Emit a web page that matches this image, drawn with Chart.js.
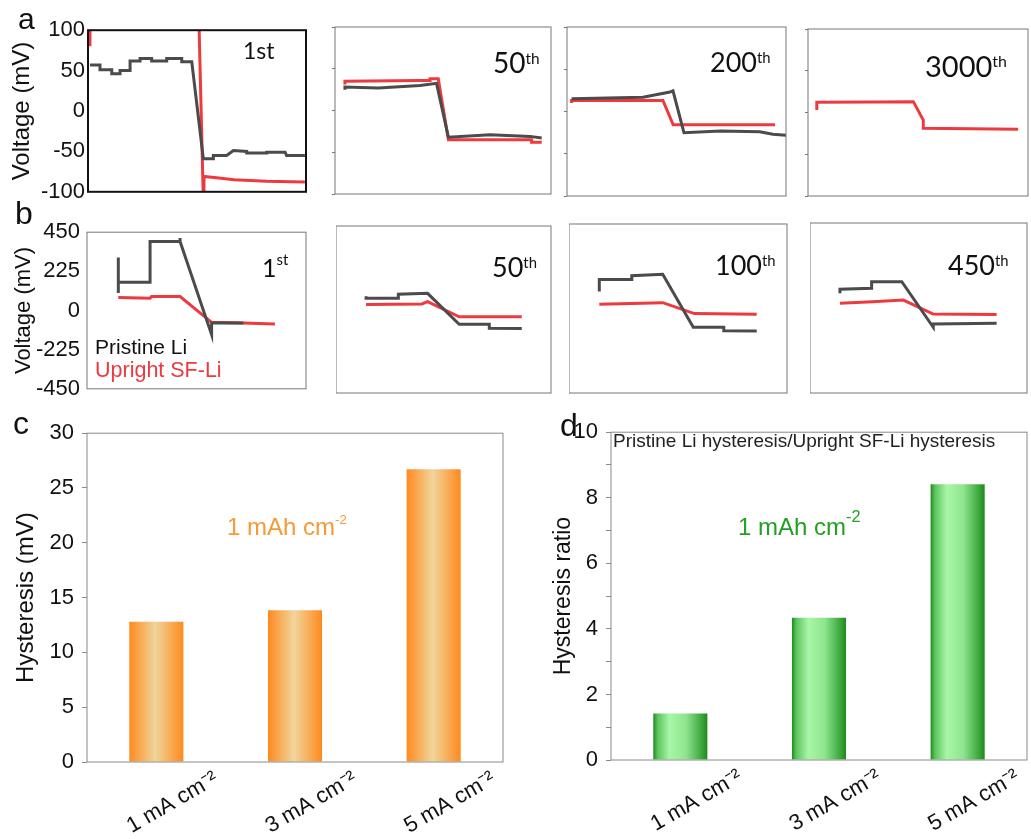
<!DOCTYPE html>
<html>
<head>
<meta charset="utf-8">
<script src="https://cdn.jsdelivr.net/npm/chart.js@4.4.1/dist/chart.umd.min.js"></script>
<style>
  body { margin: 0; width: 1031px; height: 839px; background: #fff; position: relative; overflow: hidden;
         font-family: "Liberation Sans", Arial, sans-serif; }
  canvas { position: absolute; }
  .t { position: absolute; white-space: nowrap; line-height: 1; color: #111; }
  .cyc { font-family: Lato, "Open Sans", sans-serif; }
  .sp { position: relative; font-size: 0.55em; top: -0.6em; }
</style>
</head>
<body>
<script>
// ---- row a: galvanostatic profiles (mV), time normalised to 0..100 ----
const voltageTicksA = [-100, 100, 50];
const a1PristineT = [0.9, 5.5, 5.5, 10.9, 10.9, 14.7, 14.7, 19.3, 19.3, 23.9, 23.9, 29.2, 29.2, 36.1, 36.1, 43, 43, 47.6, 52.9, 57.5, 57.5, 63.6, 66.7, 72.8, 72.8, 82, 82, 90.4, 91.1, 99.5];
const a1PristineV = [57, 57, 51, 51, 46, 46, 50, 50, 62, 62, 65, 65, 62, 62, 65, 65, 61, 61, -59, -59, -55, -55, -49, -50, -52, -52, -51, -51, -55, -55];
const a1UprightT = [0.9, 0.9, 1, 50.9, 52.9, 53.2, 60, 67, 82, 99.5];
const a1UprightV = [110, 80, null, 110, -110, -81, -83, -85, -87, -88];

const a2PristineT = [4.6, 4.6, 20, 39.4, 47, 52.5, 71.8, 90.3, 95.7];
const a2PristineV = [25, 28, 27, 30, 32.5, -32, -29, -31, -33];
const a2UprightT = [4.6, 4.6, 39.4, 44, 44, 47.8, 52.5, 91, 91, 95.7];
const a2UprightV = [31, 35, 36, 36, 38, 38, -35, -35, -38, -38];

const a3PristineT = [2.1, 34.7, 47, 48.4, 53.4, 70, 88, 94, 100];
const a3PristineV = [15, 17, 23, 24.5, -25, -23, -24, -27, -28];
const a3UprightT = [2.1, 2.1, 43.8, 48.5, 95];
const a3UprightV = [10, 13, 13, -15.7, -15.7];

const a4UprightT = [4, 4, 30, 47.9, 52.4, 52.4, 95.5];
const a4UprightV = [3, 12.4, 12.5, 13, -9, -19, -20];

// ---- row b ----
const voltageTicksB = [-450, 450, 225];
const b1PristineT = [14.3, 14.3, 14.3, 28.8, 28.8, 42.5, 42.5, 42.5, 56.9, 56.9, 71.4];
const b1PristineV = [305, 100, 162, 162, 397, 397, 416, 397, -139, -72, -72];
const b1UprightT = [14.3, 28.8, 29.5, 42.5, 56.9, 71.4, 85.8];
const b1UprightV = [74, 70, 80, 80, -68, -72, -77];

const b2PristineT = [14, 14, 29, 29, 42.6, 57.3, 71.3, 71.3, 86.4];
const b2PristineV = [72, 60, 60, 82, 87, -80, -80, -101, -103];
const b2UprightT = [14, 40, 42.6, 57.3, 86.4];
const b2UprightV = [27, 30, 42, -39, -39];

const b3PristineT = [13.9, 13.9, 28.8, 28.8, 43, 57, 71, 71, 86.1];
const b3PristineV = [90, 155, 155, 175, 182, -100, -100, -118, -120];
const b3UprightT = [13.9, 43, 57.5, 86.1];
const b3UprightV = [22, 31, -27, -30];

const b4PristineT = [13.8, 13.8, 28.4, 28.4, 42.3, 56.8, 56.8, 86];
const b4PristineV = [78, 99, 104, 139, 139, -102, -85, -81];
const b4UprightT = [13.8, 28.8, 43, 56.8, 86];
const b4UprightV = [25, 33, 42, -32, -34];

// ---- rows c / d ----
const currentLabels = ['1 mA cm⁻²', '3 mA cm⁻²', '5 mA cm⁻²'];
const hysteresisMV = [12.8, 13.85, 26.7];
const hysteresisRatio = [1.42, 4.34, 8.41];

const PRISTINE = '#4b4b4b';
const UPRIGHT = '#ec3a3f';

Chart.defaults.font.family = '"Liberation Sans", Arial, sans-serif';
Chart.defaults.color = '#111';

const framePlugin = {
  id: 'frame',
  defaults: { color: '#777', width: 1 },
  afterDatasetsDraw(chart, args, opts) {
    const a = chart.chartArea, ctx = chart.ctx;
    ctx.save();
    ctx.strokeStyle = opts.color;
    ctx.lineWidth = opts.width;
    ctx.strokeRect(a.left, a.top, a.right - a.left, a.bottom - a.top);
    ctx.restore();
  }
};
Chart.register(framePlugin);

function makeCanvas(left, top, width, height) {
  const c = document.createElement('canvas');
  c.style.left = left + 'px';
  c.style.top = top + 'px';
  c.width = width;
  c.height = height;
  document.body.appendChild(c);
  return c;
}

function pts(t, v) {
  return t.map((x, i) => ({ x: x, y: v[i] }));
}

function voltagePanel(p) {
  const padT = 14, padB = 14, padR = 3;
  let axisW = 0;
  if (p.axis === 'full') axisW = p.plot[0] - p.canvasLeft;
  else if (p.axis === 'ticks') axisW = 3;
  const left = p.plot[0] - axisW;
  const canvas = makeCanvas(left, p.plot[1] - padT, p.plot[2] - left + padR, p.plot[3] - p.plot[1] + padT + padB);
  const datasets = [];
  if (p.pristine) datasets.push({ data: pts(p.pristine[0], p.pristine[1]), borderColor: PRISTINE, borderWidth: 3 });
  if (p.upright) datasets.push({ data: pts(p.upright[0], p.upright[1]), borderColor: UPRIGHT, borderWidth: 3 });
  datasets.forEach(d => { d.pointRadius = 0; d.tension = 0; d.fill = false; d.clip = 0; });
  new Chart(canvas, {
    type: 'line',
    data: { datasets: datasets },
    options: {
      responsive: false, animation: false, devicePixelRatio: 1,
      layout: { padding: { left: 0, top: padT, right: padR, bottom: padB } },
      plugins: { legend: { display: false }, tooltip: { enabled: false },
                 frame: { color: p.frame[0], width: p.frame[1] } },
      scales: {
        x: { type: 'linear', display: false, min: 0, max: 100 },
        y: {
          display: p.axis !== 'none',
          min: p.ticks[0], max: p.ticks[1],
          ticks: { stepSize: p.ticks[2], display: p.axis === 'full', padding: p.tickPad || 3, font: { size: 22 } },
          grid: { drawOnChartArea: false, drawTicks: p.axis === 'ticks', tickLength: 3, color: '#777' },
          border: { display: false },
          title: { display: p.axis === 'full', text: 'Voltage (mV)', font: { size: p.titleSize || 22 }, padding: 0 },
          afterFit: s => { s.width = axisW; }
        }
      }
    }
  });
}

voltagePanel({ plot: [88, 28, 306, 194], axis: 'full', canvasLeft: 8, titleSize: 24, ticks: voltageTicksA, frame: ['#111', 2],
               pristine: [a1PristineT, a1PristineV], upright: [a1UprightT, a1UprightV] });
voltagePanel({ plot: [335, 27, 551, 194], axis: 'ticks', ticks: voltageTicksA, frame: ['#777', 1],
               pristine: [a2PristineT, a2PristineV], upright: [a2UprightT, a2UprightV] });
voltagePanel({ plot: [567, 27, 786, 196], axis: 'ticks', ticks: voltageTicksA, frame: ['#777', 1],
               pristine: [a3PristineT, a3PristineV], upright: [a3UprightT, a3UprightV] });
voltagePanel({ plot: [808, 29, 1028, 196], axis: 'ticks', ticks: voltageTicksA, frame: ['#777', 1],
               upright: [a4UprightT, a4UprightV] });

voltagePanel({ plot: [87, 226, 306, 395], axis: 'full', canvasLeft: 11, tickPad: 7, ticks: voltageTicksB, frame: ['#777', 1],
               pristine: [b1PristineT, b1PristineV], upright: [b1UprightT, b1UprightV] });
voltagePanel({ plot: [336, 226, 551, 393], axis: 'none', ticks: voltageTicksB, frame: ['#777', 1],
               pristine: [b2PristineT, b2PristineV], upright: [b2UprightT, b2UprightV] });
voltagePanel({ plot: [569, 224, 787, 393], axis: 'none', ticks: voltageTicksB, frame: ['#777', 1],
               pristine: [b3PristineT, b3PristineV], upright: [b3UprightT, b3UprightV] });
voltagePanel({ plot: [810, 223, 1027, 393], axis: 'none', ticks: voltageTicksB, frame: ['#777', 1],
               pristine: [b4PristineT, b4PristineV], upright: [b4UprightT, b4UprightV] });

function barGradient(stops) {
  return function (ctx) {
    const chart = ctx.chart, xs = chart.scales.x;
    if (!xs || ctx.dataIndex === undefined) return stops[0][1];
    const cx = xs.getPixelForValue(ctx.dataIndex);
    const w = xs.width / currentLabels.length * 0.39;
    if (!isFinite(cx) || !isFinite(w) || w <= 0) return stops[0][1];
    const g = chart.ctx.createLinearGradient(cx - w / 2, 0, cx + w / 2, 0);
    stops.forEach(s => g.addColorStop(s[0], s[1]));
    return g;
  };
}

function hysteresisPanel(p) {
  const padT = 14;
  const canvas = makeCanvas(p.canvasLeft, p.plot[1] - padT, p.plot[2] + p.padR - p.canvasLeft, 839 - (p.plot[1] - padT));
  new Chart(canvas, {
    type: 'bar',
    data: {
      labels: currentLabels,
      datasets: [{ data: p.values, backgroundColor: barGradient(p.stops), borderWidth: 0,
                   barPercentage: 0.39, categoryPercentage: 1 }]
    },
    options: {
      responsive: false, animation: false, devicePixelRatio: 1,
      layout: { padding: { left: 0, top: padT, right: p.padR, bottom: 0 } },
      plugins: { legend: { display: false }, tooltip: { enabled: false }, frame: { color: '#8a8a8a', width: 1 } },
      scales: {
        x: {
          offset: true,
          grid: { display: false, drawTicks: false },
          border: { display: false },
          ticks: { autoSkip: false, minRotation: 30, maxRotation: 30, labelOffset: 60, padding: 4, font: { size: 22 } },
          afterFit: s => { s.height = 839 - p.plot[3]; }
        },
        y: {
          min: 0, max: p.max,
          ticks: { stepSize: p.minor, padding: 8, font: { size: 22 },
                   callback: v => (v % p.major === 0 ? v : '') },
          grid: { drawOnChartArea: false, drawTicks: true, tickLength: 5, color: '#8a8a8a' },
          border: { display: false },
          title: { display: true, text: p.title, font: { size: p.titleSize }, padding: 0 },
          afterFit: s => { s.width = p.plot[0] - p.canvasLeft; }
        }
      }
    }
  });
}

hysteresisPanel({ plot: [87, 426, 503, 762], canvasLeft: 12, padR: 12, values: hysteresisMV, max: 30, major: 5, minor: 2.5,
                  title: 'Hysteresis (mV)', titleSize: 24,
                  stops: [[0, '#ff8a1e'], [0.48, '#f0d59b'], [1, '#ff8a1e']] });
hysteresisPanel({ plot: [611, 425, 1027, 760], canvasLeft: 550, padR: 4, values: hysteresisRatio, max: 10, major: 2, minor: 1,
                  title: 'Hysteresis ratio', titleSize: 23,
                  stops: [[0, '#1d8b1d'], [0.08, '#5cc45c'], [0.3, '#a8f6a8'], [0.6, '#8fe68f'], [0.9, '#3aa53a'], [1, '#1e8a1e']] });

// ---- text annotations: [html, left, baseline, size, class, colour] ----
const notes = [
  ['a', 18, 30, 30, '', '#111'],
  ['b', 15, 225, 32, '', '#111'],
  ['c', 13, 435, 32, '', '#111'],
  ['d', 560, 437, 32, '', '#111'],
  ['1st', 243, 59, 23, 'cyc', '#111'],
  ['50<span class="sp">th</span>', 493, 72, 28, 'cyc', '#111'],
  ['200<span class="sp">th</span>', 710, 71, 27, 'cyc', '#111'],
  ['3000<span class="sp">th</span>', 925, 76, 29, 'cyc', '#111'],
  ['1<span class="sp" style="font-size:0.6em;top:-0.75em">st</span>', 262, 276, 25, 'cyc', '#111'],
  ['50<span class="sp">th</span>', 492, 276, 27, 'cyc', '#111'],
  ['100<span class="sp">th</span>', 715, 274, 27, 'cyc', '#111'],
  ['450<span class="sp">th</span>', 948, 274, 27, 'cyc', '#111'],
  ['Pristine Li', 95, 354, 21, '', '#111'],
  ['Upright SF-Li', 95, 378, 21.5, '', UPRIGHT],
  ['1 mAh cm<span class="sp" style="font-size:0.55em;top:-0.85em">-2</span>', 227, 536, 24, '', '#f59a37'],
  ['1 mAh cm<span class="sp" style="font-size:0.68em;top:-0.85em">-2</span>', 738, 536, 24, '', '#22a022'],
  ['Pristine Li hysteresis/Upright SF-Li hysteresis', 613, 447, 19, '', '#222']
];

notes.forEach(n => {
  const d = document.createElement('div');
  d.className = 't ' + n[4];
  d.innerHTML = n[0];
  d.style.left = n[1] + 'px';
  d.style.top = (n[2] - 0.86 * n[3]) + 'px';
  d.style.fontSize = n[3] + 'px';
  d.style.color = n[5];
  document.body.appendChild(d);
});
</script>
</body>
</html>
